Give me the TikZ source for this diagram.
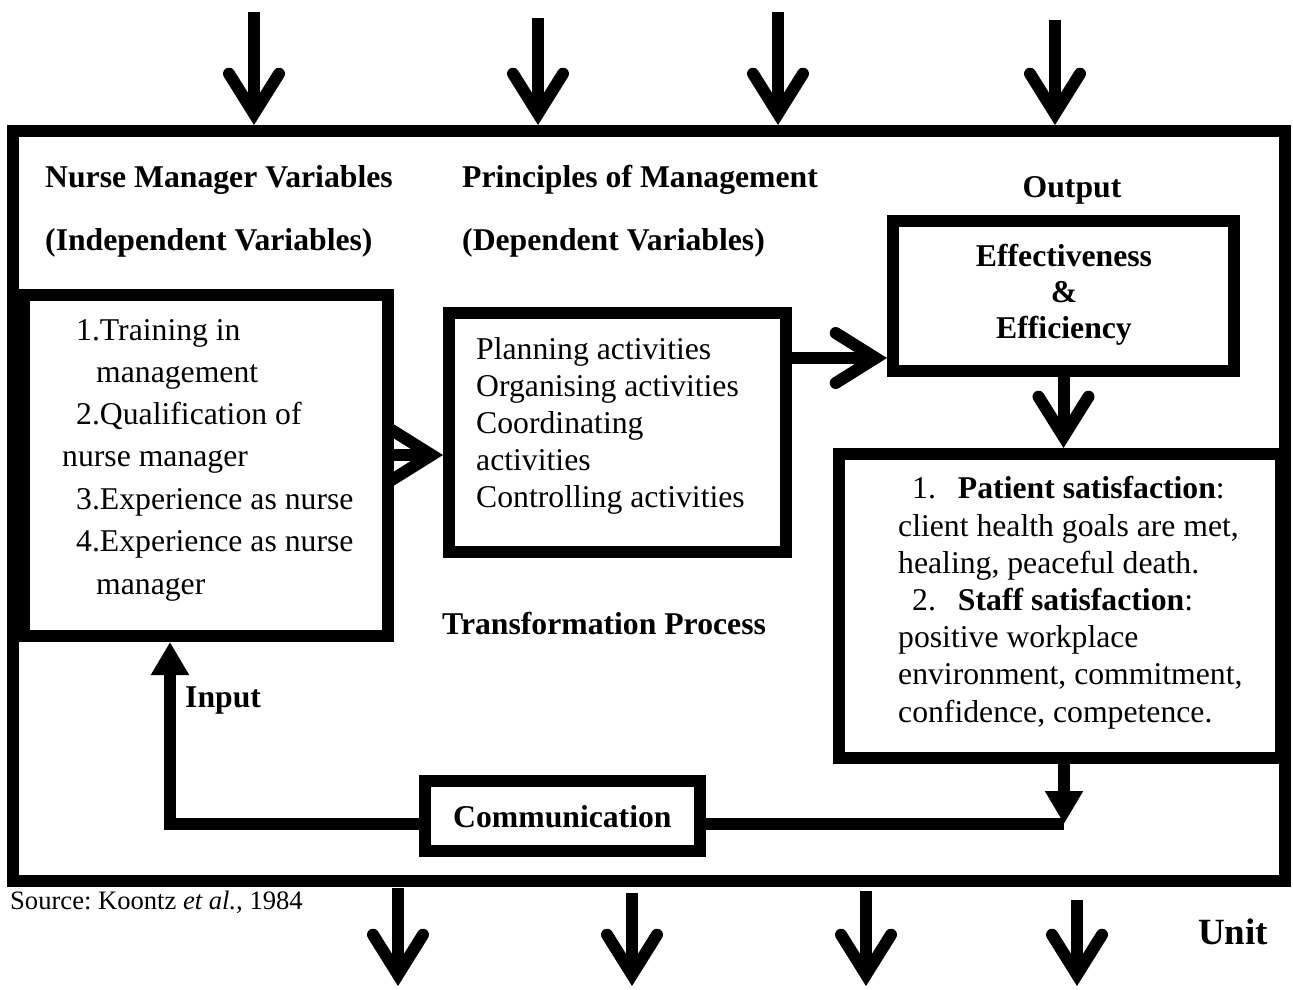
\documentclass[tikz,border=0pt]{standalone}
\usepackage{fontspec}
\setmainfont{Liberation Serif}
\usetikzlibrary{arrows.meta,backgrounds}
\frenchspacing
\newcommand\bodysize{\fontsize{31.7}{42}\selectfont}
\begin{document}
\begin{tikzpicture}[x=1pt,y=-1pt,
  thickbox/.style={draw, line width=12pt, fill=white, inner sep=0pt},
  plain/.style={inner sep=0pt, anchor=base west, font=\bodysize},
  heading/.style={inner sep=0pt, anchor=base west, font=\bodysize\bfseries},
  flow/.style={line width=12pt, line join=miter},
  barb/.style={flow, -{Straight Barb[length=40pt,width=50pt,line join=miter,line cap=round]}},
  solidtip/.style={flow, -{Triangle[length=33pt,width=36pt]}},
]
\useasboundingbox (0,0) rectangle (1293,990);

% outer unit frame
\node[draw, line width=12pt, inner sep=0pt, minimum width=1272.5pt, minimum height=750pt] (frame) at (648.75,506) {};

% boxes
\node[thickbox, minimum width=364pt, minimum height=341pt] (lbox) at (206,465.5) {};
\node[thickbox, minimum width=337pt, minimum height=239pt] (mbox) at (617.5,432.5) {};
\node[thickbox, minimum width=341pt, minimum height=150pt] (obox) at (1063.5,296) {};
\node[thickbox, minimum width=442pt, minimum height=304pt] (sbox) at (1060,606) {};
\node[thickbox, minimum width=275pt, minimum height=70pt] (cbox) at (562.5,816) {};
\node[heading] (ctext) at (453,827) {Communication};

% headings
\node[heading] (h1) at (45,187) {Nurse Manager Variables};
\node[heading] (h2) at (45,250) {(Independent Variables)};
\node[heading] (h3) at (462,187) {Principles of Management};
\node[heading] (h4) at (462,250) {(Dependent Variables)};
\node[heading, anchor=base] (h5) at (1072,197) {Output};
\node[heading, anchor=base] (e1) at (1064,266) {Effectiveness};
\node[heading, anchor=base] (e2) at (1064,302) {\&};
\node[heading, anchor=base] (e3) at (1064,338) {Efficiency};
\node[heading] (tp) at (442,634) {Transformation Process};
\node[heading] (inp) at (185,707) {Input};

% input variables
\foreach \t/\x/\y [count=\i] in {
  {1.Training in}/76/340,
  {management}/96/382,
  {2.Qualification of}/76/424,
  {nurse manager}/62/466,
  {3.Experience as nurse}/76/509,
  {4.Experience as nurse}/76/551,
  {manager}/96/594}
  \node[plain, name=in\i] at (\x,\y) {\t};

% management activities
\foreach \t/\y [count=\i] in {
  {Planning activities}/359,
  {Organising activities}/396,
  {Coordinating}/433,
  {activities}/470,
  {Controlling activities}/507}
  \node[plain, name=act\i] at (476,\y) {\t};

% satisfaction outcomes
\node[plain] (s1) at (912,498) {1.\hspace*{22pt}\textbf{Patient satisfaction}:};
\node[plain] (s2) at (898,536) {client health goals are met,};
\node[plain] (s3) at (898,573) {healing, peaceful death.};
\node[plain] (s4) at (912,610) {2.\hspace*{22pt}\textbf{Staff satisfaction}:};
\node[plain] (s5) at (898,647) {positive workplace};
\node[plain] (s6) at (898,684) {environment, commitment,};
\node[plain] (s7) at (898,722) {confidence, competence.};

% footer
\node[inner sep=0pt, anchor=base west, font=\fontsize{26.6}{30}\selectfont] (src) at (10,909) {Source: Koontz \textit{et al.}, 1984};
\node[inner sep=0pt, anchor=base west, font=\fontsize{37}{42}\selectfont\bfseries] (unit) at (1198,944) {Unit};

% free arrow ends
\coordinate (t1) at (254,12);
\coordinate (t2) at (538,18);
\coordinate (t3) at (778,12);
\coordinate (t4) at (1055,20);
\coordinate (s1a) at (398,888);
\coordinate (s2a) at (632,893);
\coordinate (s3a) at (866,891);
\coordinate (s4a) at (1077,900);
\coordinate (b1) at (398,986);
\coordinate (b2) at (632,986);
\coordinate (b3) at (866,986);
\coordinate (b4) at (1077,986);
\coordinate (lm) at (0,455);
\coordinate (mo) at (0,358);
\coordinate (fb) at (1064,824);
\coordinate (fbl) at (170,824);

\begin{scope}[on background layer]
  % environment inputs and outputs
  \foreach \c in {t1,t2,t3,t4}
    \draw[barb] (\c) -- (\c |- frame.north);
  \draw[barb] (s1a) -- (b1);
  \draw[barb] (s2a) -- (b2);
  \draw[barb] (s3a) -- (b3);
  \draw[barb] (s4a) -- (b4);
  % transformation flow
  \draw[barb] (lbox.east |- lm) -- (mbox.west |- lm);
  \draw[barb] (mbox.east |- mo) -- (obox.west |- mo);
  \draw[barb] (obox.south) -- (sbox.north -| obox.south);
  % feedback loop
  \draw[solidtip] (sbox.south -| fb) -- (fb);
  \draw[flow] (cbox.east |- fb) -- (fb);
  \draw[solidtip] (cbox.west |- fb) -- (fbl) -- (lbox.south -| fbl);
\end{scope}
\end{tikzpicture}
\end{document}
